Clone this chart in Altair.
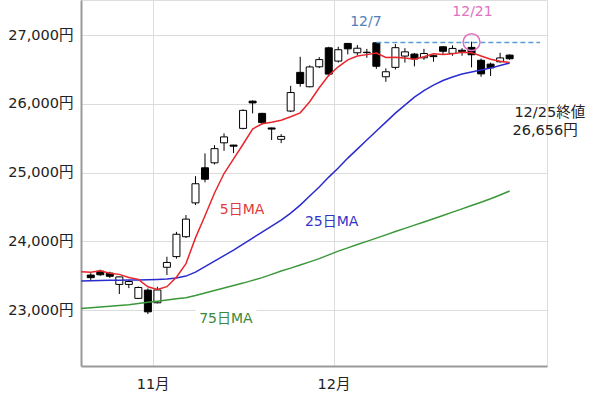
import altair as alt
import pandas as pd

FONT = "DejaVu Sans, Noto Sans CJK JP, sans-serif"

# trading days (index 0 = 2020-10-22 ... index 44 = 2020-12-25)
dates = ["10/22", "10/23", "10/26", "10/27", "10/28", "10/29", "10/30",
         "11/2", "11/4", "11/5", "11/6", "11/9", "11/10", "11/11", "11/12", "11/13",
         "11/16", "11/17", "11/18", "11/19", "11/20", "11/24", "11/25", "11/26", "11/27", "11/30",
         "12/1", "12/2", "12/3", "12/4", "12/7", "12/8", "12/9", "12/10", "12/11",
         "12/14", "12/15", "12/16", "12/17", "12/18", "12/21", "12/22", "12/23", "12/24", "12/25"]

opens = [23512, 23568, 23540, 23376, 23376, 23173, 23293, 23109, 23625, 23780,
         24069, 24561, 25071, 25143, 25434, 25401, 25644, 26040, 25862, 25650,
         25485, 25896, 26458, 26249, 26539, 26815, 26622, 26879, 26743, 26745,
         26888, 26394, 26531, 26695, 26724, 26670, 26700, 26830, 26734, 26780,
         26821, 26634, 26578, 26612, 26709]
highs = [23540, 23590, 23560, 23490, 23440, 23345, 23318, 23342, 23778, 24140,
         24384, 24950, 25280, 25400, 25571, 25405, 25920, 26050, 25870, 25655,
         25560, 26263, 26685, 26560, 26680, 26830, 26830, 26885, 26855, 26800,
         26894, 26516, 26869, 26810, 26740, 26800, 26710, 26840, 26850, 26810,
         26905, 26660, 26600, 26743, 26720]
lows = [23440, 23500, 23470, 23236, 23322, 23165, 22945, 23100, 23512, 23750,
        24050, 24529, 24860, 25120, 25318, 25285, 25630, 25862, 25700, 25474,
        25430, 25880, 26250, 26240, 26520, 26400, 26600, 26720, 26709, 26670,
        26510, 26321, 26500, 26600, 26545, 26640, 26612, 26720, 26700, 26700,
        26531, 26394, 26404, 26600, 26640]
closes = [23474, 23516, 23494, 23485, 23418, 23331, 22977, 23295, 23695, 24105,
          24325, 24839, 24905, 25349, 25520, 25385, 25906, 26014, 25728, 25634,
          25527, 26165, 26296, 26537, 26644, 26433, 26787, 26800, 26809, 26751,
          26547, 26467, 26817, 26756, 26652, 26732, 26687, 26765, 26806, 26763,
          26714, 26436, 26524, 26668, 26656]

# moving averages, index -1 .. 44
ma_index = list(range(-1, 45))
ma5 = [23559, 23552, 23573, 23538, 23522, 23477, 23449, 23341, 23301, 23343,
       23481, 23679, 24052, 24374, 24705, 24988, 25200, 25413, 25635, 25711,
       25733, 25762, 25814, 25870, 26032, 26234, 26415, 26539, 26640, 26695,
       26716, 26739, 26675, 26678, 26668, 26648, 26685, 26729, 26717, 26727,
       26749, 26745, 26695, 26649, 26621, 26600]
ma25 = [23424, 23429, 23432, 23435, 23436, 23439, 23439, 23442, 23446, 23453,
        23468, 23497, 23555, 23635, 23715, 23795, 23875, 23962, 24049, 24137,
        24224, 24311, 24413, 24529, 24660, 24791, 24936, 25067, 25212, 25343,
        25474, 25605, 25735, 25866, 25982, 26099, 26193, 26273, 26339, 26390,
        26433, 26462, 26491, 26520, 26557, 26593]
ma75 = [23026, 23038, 23048, 23058, 23070, 23081, 23097, 23116, 23132, 23148,
        23166, 23183, 23214, 23250, 23286, 23323, 23359, 23395, 23435, 23475,
        23522, 23570, 23613, 23657, 23703, 23751, 23805, 23860, 23907, 23955,
        24001, 24049, 24096, 24144, 24190, 24238, 24283, 24330, 24378, 24427,
        24474, 24522, 24571, 24621, 24676, 24733]

y_ticks = [23000, 24000, 25000, 26000, 27000]
month_ticks = [6.5, 25.5]

candles = pd.DataFrame({"i": list(range(len(dates))), "date": dates,
                        "open": opens, "high": highs, "low": lows, "close": closes})
candles["up"] = candles["close"] >= candles["open"]
ma = pd.DataFrame({"i": ma_index, "ma5": ma5, "ma25": ma25, "ma75": ma75})

xscale = alt.Scale(domain=[-0.5, 47.4], nice=False, zero=False)
yscale = alt.Scale(domain=[22190, 27510], nice=False, zero=False)

xaxis = alt.Axis(values=month_ticks, labelExpr="datum.value < 10 ? '11月' : '12月'",
                 grid=True, ticks=False, title=None, labelFontSize=14.5, labelPadding=11,
                 labelFont=FONT, labelColor="#222", domainColor="#999", domainWidth=2,
                 gridColor="#dcdcdc", gridWidth=1)
yaxis = alt.Axis(values=y_ticks, labelExpr="format(datum.value, ',') + '円'",
                 grid=True, ticks=False, title=None, labelFontSize=14.5, labelPadding=8,
                 labelFont=FONT, labelColor="#222", domainColor="#999", domainWidth=2,
                 gridColor="#dcdcdc", gridWidth=1)


def X(f):
    return alt.X(f"{f}:Q", scale=xscale, axis=xaxis)


def Y(f):
    return alt.Y(f"{f}:Q", scale=yscale, axis=yaxis)


base = alt.Chart(candles)
wicks = base.mark_rule(color="black", strokeWidth=1).encode(x=X("i"), y=Y("low"), y2="y2:Q").transform_calculate(y2="datum.high")
bodies = base.mark_bar(size=7, stroke="black", strokeWidth=1).encode(
    x=X("i"), y=Y("open"), y2="close:Q",
    fill=alt.condition("datum.up", alt.value("white"), alt.value("black")))

line5 = alt.Chart(ma).mark_line(clip=True, color="#e8262b", strokeWidth=1.5).encode(x=X("i"), y=Y("ma5"))
line25 = alt.Chart(ma).mark_line(clip=True, color="#2b2bd0", strokeWidth=1.5).encode(x=X("i"), y=Y("ma25"))
line75 = alt.Chart(ma).mark_line(clip=True, color="#3a983a", strokeWidth=1.5).encode(x=X("i"), y=Y("ma75"))

# annotations (data coordinates)
dash_df = pd.DataFrame({"x1": [30], "x2": [47.2], "y": [26894]})
dash = alt.Chart(dash_df).mark_rule(color="#5b9bd5", strokeWidth=1.5, strokeDash=[5, 3]).encode(
    x=X("x1"), x2="x2:Q", y=Y("y"))

circ_df = pd.DataFrame({"i": [40], "y": [26898]})
circ = alt.Chart(circ_df).mark_point(shape="circle", size=285, filled=False,
                                     stroke="#e070c0", strokeWidth=1.5, opacity=1).encode(x=X("i"), y=Y("y"))

box_df = pd.DataFrame({"x1": [11.0], "x2": [17.4], "y1": [23015], "y2": [22750]})
box = alt.Chart(box_df).mark_rect(color="white").encode(x=X("x1"), x2="x2:Q", y=Y("y1"), y2="y2:Q")

lab_df = pd.DataFrame({
    "i": [15.9, 25.3, 14.2, 28.9, 40.1],
    "y": [24456, 24282, 22872, 27189, 27334],
    "t": ["5日MA", "25日MA", "75日MA", "12/7", "12/21"],
    "c": ["#e03a3a", "#3434c8", "#3a8a3a", "#4f7fb8", "#e070c0"],
})
labels = alt.Chart(lab_df).mark_text(font=FONT, fontSize=14, baseline="middle", align="center").encode(
    x=X("i"), y=Y("y"), text="t:N", color=alt.Color("c:N", scale=None))

end_df = pd.DataFrame({"i": [44.5, 44.3], "y": [25866, 25605], "t": ["12/25終値", "26,656円"]})
endlab = alt.Chart(end_df).mark_text(font=FONT, fontSize=14.5, baseline="middle", align="left", color="#222").encode(
    x=X("i"), y=Y("y"), text="t:N")

chart = alt.layer(wicks, bodies, line75, line25, line5, dash, circ, box, labels, endlab).properties(
    width=466, height=366,
    autosize=alt.AutoSizeParams(type="none"),
    padding={"left": 81, "top": 0, "right": 53, "bottom": 33},
).configure_view(stroke=None).configure(background="white")

chart.save("out.html", embed_options={"renderer": "svg", "actions": False})
